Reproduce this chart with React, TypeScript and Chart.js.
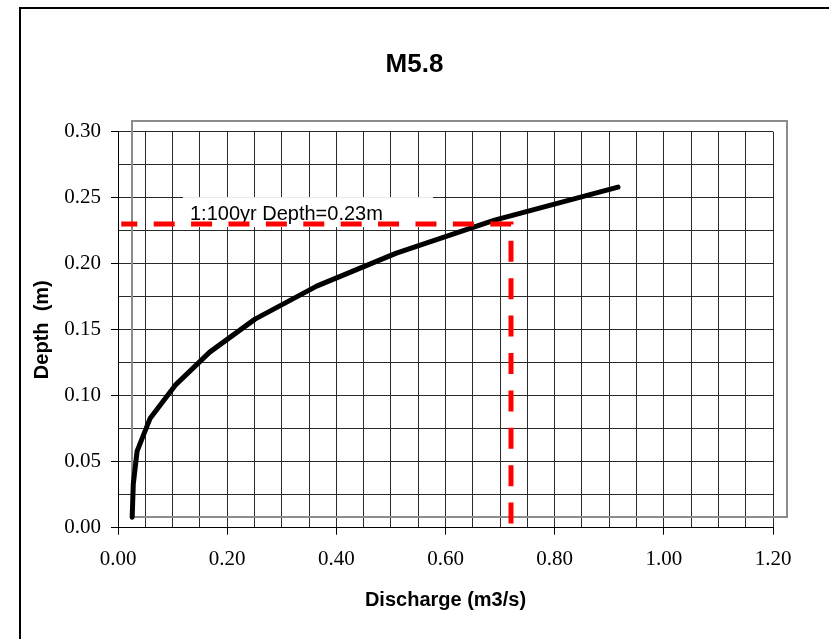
import { useEffect, useRef } from "react";
import { Chart, registerables } from "chart.js";

Chart.register(...registerables);

// Rating curve (discharge vs depth)
const discharge = [0.026, 0.028, 0.035, 0.059, 0.105, 0.168, 0.251, 0.364, 0.51, 0.69, 0.916];
const depth = [0.008, 0.033, 0.058, 0.083, 0.108, 0.133, 0.158, 0.183, 0.208, 0.233, 0.258];

// 1:100yr design line
const designDischarge = [0.006, 0.72, 0.72];
const designDepth = [0.23, 0.23, 0.0];

const titleText = "M5.8";
const xTitle = "Discharge (m3/s)";
const yTitle = "Depth  (m)";
const labelText = "1:100yr Depth=0.23m";

const serif = "'Liberation Serif', 'Times New Roman', serif";
const sans = "'Liberation Sans', Arial, sans-serif";

const decorPlugin = {
  id: "decor",
  beforeDraw(chart: any) {
    const { ctx, width, height } = chart;
    ctx.save();
    ctx.strokeStyle = "#000";
    ctx.lineWidth = 2;
    ctx.beginPath();
    ctx.moveTo(20, height + 10);
    ctx.lineTo(20, 8);
    ctx.lineTo(width + 10, 8);
    ctx.stroke();
    ctx.restore();
  },
  beforeDatasetsDraw(chart: any) {
    const { ctx, chartArea: ca, scales } = chart;
    const x = scales.x;
    const y = scales.y;
    ctx.save();
    // offset grey plot frame
    ctx.strokeStyle = "#8c8c8c";
    ctx.lineWidth = 2;
    ctx.strokeRect(Math.round(ca.left + 14), Math.round(ca.top - 11), Math.round(ca.width), Math.round(ca.height));
    // label box
    const tx = x.getPixelForValue(0.13) + 1;
    const ty = y.getPixelForValue(0.23) - 4;
    ctx.fillStyle = "#fff";
    ctx.fillRect(tx - 7, ty - 23, 250, 30);
    ctx.fillStyle = "#000";
    ctx.font = `20px ${sans}`;
    ctx.textAlign = "left";
    ctx.textBaseline = "alphabetic";
    ctx.fillText(labelText, tx, ty);
    ctx.restore();
  },
};

export default function App() {
  const ref = useRef<HTMLCanvasElement | null>(null);

  useEffect(() => {
    if (!ref.current) return;
    const chart = new Chart(ref.current, {
      type: "line",
      data: {
        datasets: [
          {
            data: discharge.map((v, i) => ({ x: v, y: depth[i] })),
            borderColor: "#000",
            borderWidth: 5,
            pointRadius: 0,
            tension: 0,
            borderCapStyle: "round",
            borderJoinStyle: "round",
            order: 1,
          },
          {
            data: designDischarge.map((v, i) => ({ x: v, y: designDepth[i] })),
            borderColor: "#ff0000",
            borderWidth: 5,
            borderDash: [21, 16.4],
            borderDashOffset: 5,
            pointRadius: 0,
            tension: 0,
            order: 0,
          },
        ],
      },
      options: {
        responsive: false,
        animation: false,
        events: [],
        layout: { padding: 0 },
        plugins: {
          legend: { display: false },
          tooltip: { enabled: false },
          title: {
            display: true,
            text: titleText,
            color: "#000",
            font: { family: sans, size: 26, weight: "bold" },
            padding: { top: 49.4, bottom: 51.1 },
          },
        },
        scales: {
          x: {
            type: "linear",
            min: 0,
            max: 1.2,
            afterFit: (s: any) => {
              s.height = 111.3;
              s.paddingRight = 56;
            },
            ticks: {
              stepSize: 0.05,
              autoSkip: false,
              maxRotation: 0,
              padding: 12,
              color: "#000",
              font: { family: serif, size: 21 },
              callback: (v: any) => (Math.round(Number(v) * 100) % 20 === 0 ? Number(v).toFixed(2) : ""),
            },
            grid: {
              color: "#2a2a2a",
              lineWidth: 1,
              tickLength: 7,
              tickColor: (c: any) =>
                c.tick && Math.round(c.tick.value * 100) % 20 === 0 ? "#000" : "rgba(0,0,0,0)",
            },
            border: { display: true, color: "#000", width: 1 },
            title: {
              display: true,
              text: xTitle,
              color: "#000",
              font: { family: sans, size: 20, weight: "bold" },
              padding: { top: 0, bottom: 27 },
            },
          },
          y: {
            type: "linear",
            min: 0,
            max: 0.3,
            afterFit: (s: any) => {
              s.width = 118;
            },
            ticks: {
              stepSize: 0.025,
              autoSkip: false,
              padding: 10,
              color: "#000",
              font: { family: serif, size: 21 },
              callback: (v: any) => (Math.round(Number(v) * 1000) % 50 === 0 ? Number(v).toFixed(2) : ""),
            },
            grid: {
              color: "#2a2a2a",
              lineWidth: 1,
              tickLength: 7,
              tickColor: (c: any) =>
                c.tick && Math.round(c.tick.value * 1000) % 50 === 0 ? "#000" : "rgba(0,0,0,0)",
            },
            border: { display: true, color: "#000", width: 1 },
            title: {
              display: true,
              text: yTitle,
              color: "#000",
              font: { family: sans, size: 20, weight: "bold" },
              padding: { top: 30, bottom: 0 },
            },
          },
        },
      },
      plugins: [decorPlugin],
    } as any);
    return () => chart.destroy();
  }, []);

  return (
    <div style={{ position: "fixed", left: 0, top: 0, width: 829, height: 639, background: "#fff" }}>
      <canvas ref={ref} width={829} height={639} style={{ display: "block" }} />
    </div>
  );
}
